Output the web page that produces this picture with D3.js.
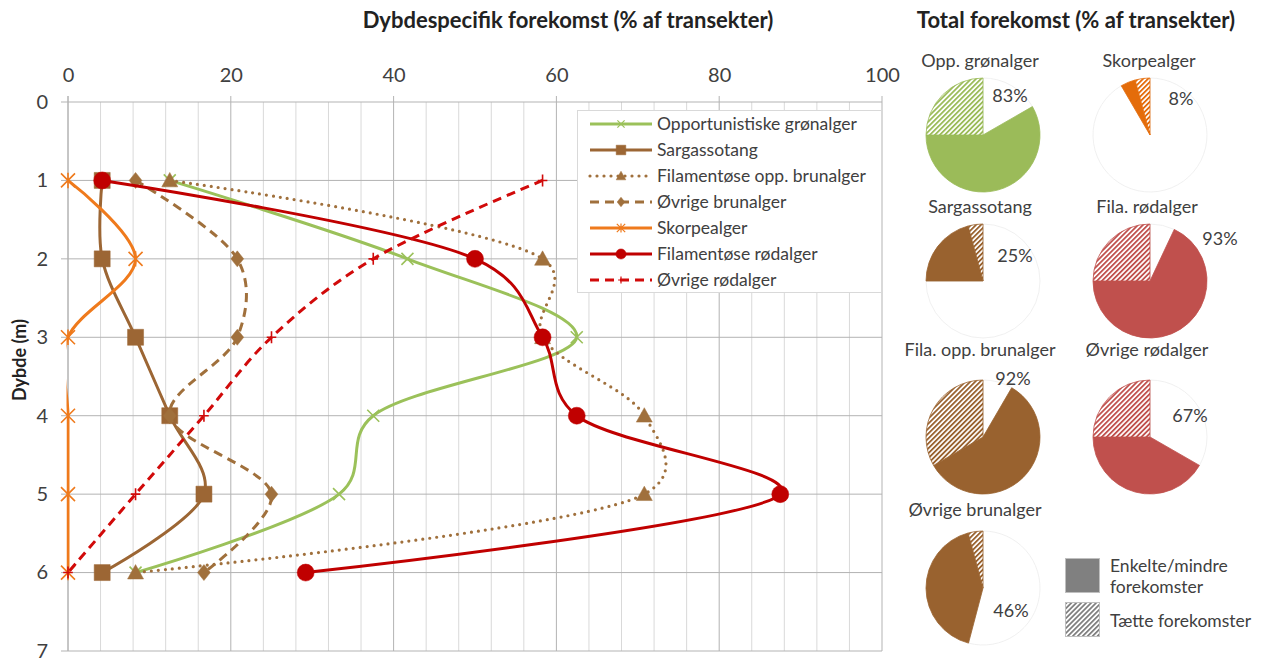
<!DOCTYPE html>
<html>
<head>
<meta charset="utf-8">
<script src="https://cdn.jsdelivr.net/npm/d3@7"></script>
<style>
  body { margin: 0; background: #fff; }
  svg { font-family: Lato, "Open Sans", sans-serif; }
</style>
</head>
<body>
<div id="chart"></div>
<script>
// depth-specific occurrence, % of transects, per depth 1..6 m
const depths = [1, 2, 3, 4, 5, 6];
const greenOpp = [12.5, 41.7, 62.5, 37.5, 33.3, 8.3];
const sargasso = [4.2, 4.2, 8.3, 12.5, 16.7, 4.2];
const filaOppBrun = [12.5, 58.3, 58.3, 70.8, 70.8, 8.3];
const ovrigeBrun = [8.3, 20.8, 20.8, 12.5, 25, 16.7];
const skorpe = [0, 8.3, 0, 0, 0, 0];
const filaRod = [4.2, 50, 58.3, 62.5, 87.5, 29.2];
const ovrigeRod = [58.3, 37.5, 25, 16.7, 8.3, 0];

const seriesNames = ["Opportunistiske grønalger", "Sargassotang", "Filamentøse opp. brunalger",
  "Øvrige brunalger", "Skorpealger", "Filamentøse rødalger", "Øvrige rødalger"];

const xTicks = [0, 20, 40, 60, 80, 100];
const yTicks = [0, 1, 2, 3, 4, 5, 6, 7];

// total occurrence pies
const pieNames = ["Opp. grønalger", "Skorpealger", "Sargassotang", "Fila. rødalger",
  "Fila. opp. brunalger", "Øvrige rødalger", "Øvrige brunalger"];
const pieSolid = [58.3, 4.2, 20.8, 68, 58.3, 41.7, 41.7];   // enkelte/mindre
const pieDense = [25, 4.2, 4.2, 25, 33.3, 25, 4.2];         // tætte

const width = 1264, height = 659;

const svg = d3.select("#chart").append("svg")
  .attr("width", width)
  .attr("height", height);

const x = d3.scaleLinear().domain([0, 100]).range([68, 882]);
const y = d3.scaleLinear().domain([0, 7]).range([102, 651]);

// grid
const grid = svg.append("g");
grid.selectAll("line.minor")
  .data(d3.range(0, 100.1, 4).filter(v => v % 20 !== 0))
  .join("line")
  .attr("x1", d => x(d)).attr("x2", d => x(d))
  .attr("y1", y(0)).attr("y2", y(7))
  .attr("stroke", "#d9d9d9");
grid.selectAll("line.major")
  .data(xTicks)
  .join("line")
  .attr("x1", d => x(d)).attr("x2", d => x(d))
  .attr("y1", y(0) - 6).attr("y2", y(7))
  .attr("stroke", d => d === 0 ? "#8c8c8c" : "#b3b3b3");
grid.selectAll("line.h")
  .data(yTicks)
  .join("line")
  .attr("x1", x(0) - 7).attr("x2", x(100))
  .attr("y1", d => y(d)).attr("y2", d => y(d))
  .attr("stroke", "#b3b3b3");

// axes (labels only)
svg.append("g")
  .attr("transform", `translate(0,${y(0) - 20})`)
  .call(d3.axisTop(x).tickValues(xTicks).tickSize(0).tickPadding(0))
  .call(g => g.select(".domain").remove())
  .call(g => g.selectAll("text").attr("font-size", 20).attr("fill", "#404040")
    .attr("font-family", "Lato, sans-serif"));

svg.append("g")
  .attr("transform", `translate(${x(0) - 20},0)`)
  .call(d3.axisLeft(y).tickValues(yTicks).tickFormat(d3.format("d")).tickSize(0).tickPadding(0))
  .call(g => g.select(".domain").remove())
  .call(g => g.selectAll("text").attr("font-size", 20).attr("fill", "#404040")
    .attr("font-family", "Lato, sans-serif"));

svg.append("text")
  .attr("transform", `translate(26,360) rotate(-90)`)
  .attr("text-anchor", "middle")
  .attr("font-weight", "bold").attr("font-size", 18).attr("fill", "#222")
  .text("Dybde (m)");

svg.append("text")
  .attr("x", 568).attr("y", 28)
  .attr("text-anchor", "middle")
  .attr("font-weight", "bold").attr("font-size", 22).attr("fill", "#222")
  .text("Dybdespecifik forekomst (% af transekter)");

svg.append("text")
  .attr("x", 1076).attr("y", 28)
  .attr("text-anchor", "middle")
  .attr("font-weight", "bold").attr("font-size", 22).attr("fill", "#222")
  .text("Total forekomst (% af transekter)");

// series
const brown = "#9c6634";
const styles = [
  { values: greenOpp, color: "#9bc15a", dash: null, width: 3, marker: "x", size: 6 },
  { values: sargasso, color: brown, dash: null, width: 3, marker: "square", size: 8 },
  { values: filaOppBrun, color: "#a0703c", dash: "0,7", width: 3.2, marker: "triangle", size: 8 },
  { values: ovrigeBrun, color: "#a0703c", dash: "9,6", width: 3, marker: "diamond", size: 8 },
  { values: skorpe, color: "#ef7a1c", dash: null, width: 3, marker: "star", size: 7 },
  { values: filaRod, color: "#c00000", dash: null, width: 3, marker: "circle", size: 8.5 },
  { values: ovrigeRod, color: "#d10a0a", dash: "9,6", width: 3, marker: "plus", size: 6 }
];

function markerPath(type, s) {
  switch (type) {
    case "x": return `M${-s},${-s}L${s},${s}M${-s},${s}L${s},${-s}`;
    case "plus": return `M0,${-s}L0,${s}M${-s * 0.8},0L${s * 0.8},0`;
    case "star": return `M${-s},${-s}L${s},${s}M${-s},${s}L${s},${-s}M0,${-s * 1.1}L0,${s * 1.1}`;
    case "square": return `M${-s},${-s}h${2 * s}v${2 * s}h${-2 * s}Z`;
    case "triangle": return `M0,${-s}L${s},${s * 0.8}L${-s},${s * 0.8}Z`;
    case "diamond": return `M0,${-s}L${s * 0.8},0L0,${s}L${-s * 0.8},0Z`;
    case "circle": return `M${s},0A${s},${s} 0 1,1 ${-s},0A${s},${s} 0 1,1 ${s},0Z`;
  }
}
const strokeMarkers = new Set(["x", "plus", "star"]);

const line = d3.line()
  .x(d => x(d[0]))
  .y(d => y(d[1]))
  .curve(d3.curveCatmullRom.alpha(0.25));

svg.append("clipPath").attr("id", "plotclip")
  .append("rect")
  .attr("x", x(0) - 1.5).attr("y", y(0))
  .attr("width", x(100) - x(0) + 1.5).attr("height", y(7) - y(0));

const plot = svg.append("g");
styles.forEach(s => {
  const pts = s.values.map((v, i) => [v, depths[i]]);
  plot.append("path")
    .attr("clip-path", "url(#plotclip)")
    .attr("d", line(pts))
    .attr("fill", "none")
    .attr("stroke", s.color)
    .attr("stroke-width", s.width)
    .attr("stroke-linecap", s.dash === "0,7" ? "round" : "butt")
    .attr("stroke-dasharray", s.dash);
  plot.append("g").selectAll("path")
    .data(pts)
    .join("path")
    .attr("transform", d => `translate(${x(d[0])},${y(d[1])})`)
    .attr("d", markerPath(s.marker, s.size))
    .attr("fill", strokeMarkers.has(s.marker) ? "none" : s.color)
    .attr("stroke", s.color)
    .attr("stroke-width", strokeMarkers.has(s.marker) ? 1.6 : 0.5);
});

// legend
const lg = svg.append("g");
lg.append("rect")
  .attr("x", 577.5).attr("y", 110.5).attr("width", 304).attr("height", 182)
  .attr("fill", "#fff").attr("stroke", "#d9d9d9");
styles.forEach((s, i) => {
  const ly = 124 + i * 26;
  const g = lg.append("g");
  g.append("line")
    .attr("x1", 590).attr("x2", 652).attr("y1", ly).attr("y2", ly)
    .attr("stroke", s.color).attr("stroke-width", s.width)
    .attr("stroke-linecap", s.dash === "0,7" ? "round" : "butt")
    .attr("stroke-dasharray", s.dash);
  g.append("path")
    .attr("transform", `translate(621,${ly})`)
    .attr("d", markerPath(s.marker, s.size * 0.6))
    .attr("fill", strokeMarkers.has(s.marker) ? "none" : s.color)
    .attr("stroke", s.color)
    .attr("stroke-width", strokeMarkers.has(s.marker) ? 1.2 : 0.5);
  g.append("text")
    .attr("x", 657).attr("y", ly + 6)
    .attr("font-size", 17.5).attr("fill", "#404040")
    .text(seriesNames[i]);
});

// hatch patterns
const pieColors = ["#9bbb59", "#e46c0a", "#99622f", "#c0504d", "#99622f", "#c0504d", "#99622f"];
const defs = svg.append("defs");
const patColors = Array.from(new Set(pieColors.concat(["#7f7f7f"])));
patColors.forEach(c => {
  const p = defs.append("pattern")
    .attr("id", "hatch" + c.slice(1))
    .attr("patternUnits", "userSpaceOnUse")
    .attr("width", 3.5).attr("height", 4)
    .attr("patternTransform", "rotate(45)");
  p.append("rect").attr("width", 3.5).attr("height", 4).attr("fill", "#fff");
  p.append("rect").attr("width", 1.8).attr("height", 4).attr("fill", c);
});

// pies
const pieCx = [983, 1150];
const pieCy = [135, 281, 437, 588];
const r = 57;
const pie = d3.pie().sort(null).value(d => d.v);
const arc = d3.arc().innerRadius(0).outerRadius(r);
const titlePos = [[980, 67], [1149, 67], [980, 213], [1147, 213], [980, 356], [1147, 356], [975, 516]];
const pctPos = [[1010, 102], [1181, 105], [1015, 262], [1220, 245], [1013, 385], [1190, 422], [1011, 617]];

pieNames.forEach((name, i) => {
  const cx = pieCx[i % 2], cy = pieCy[Math.floor(i / 2)];
  const total = pieSolid[i] + pieDense[i];
  const slices = [
    { v: 100 - total, fill: "#fff", stroke: "#ececec" },
    { v: pieSolid[i], fill: pieColors[i], stroke: pieColors[i] },
    { v: pieDense[i], fill: `url(#hatch${pieColors[i].slice(1)})`, stroke: pieColors[i] }
  ];
  const g = svg.append("g").attr("transform", `translate(${cx},${cy})`);
  g.selectAll("path")
    .data(pie(slices))
    .join("path")
    .attr("d", arc)
    .attr("fill", d => d.data.fill)
    .attr("stroke", d => d.data.stroke)
    .attr("stroke-width", 0.8);
  svg.append("text")
    .attr("x", titlePos[i][0]).attr("y", titlePos[i][1])
    .attr("text-anchor", "middle")
    .attr("font-size", 18).attr("fill", "#404040")
    .text(name);
  svg.append("text")
    .attr("x", pctPos[i][0]).attr("y", pctPos[i][1])
    .attr("text-anchor", "middle")
    .attr("font-size", 18).attr("fill", "#404040")
    .text(Math.round(total) + "%");
});

// pie legend
svg.append("rect")
  .attr("x", 1065.5).attr("y", 558.5).attr("width", 34).attr("height", 34)
  .attr("fill", "#808080").attr("stroke", "#bfbfbf");
svg.append("rect")
  .attr("x", 1065.5).attr("y", 602.5).attr("width", 34).attr("height", 34)
  .attr("fill", "url(#hatch7f7f7f)").attr("stroke", "#bfbfbf");
const lt = svg.append("g").attr("font-size", 17.5).attr("fill", "#404040");
lt.append("text").attr("x", 1110).attr("y", 572).text("Enkelte/mindre");
lt.append("text").attr("x", 1110).attr("y", 593).text("forekomster");
lt.append("text").attr("x", 1110).attr("y", 627).text("Tætte forekomster");
</script>
</body>
</html>
